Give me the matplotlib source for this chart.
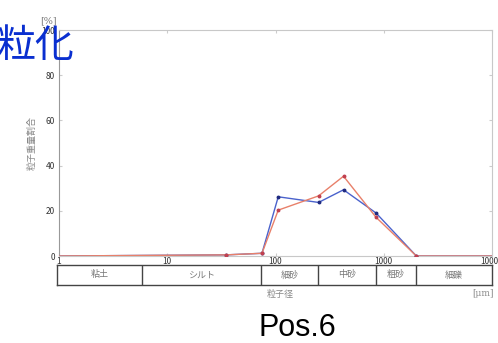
import matplotlib
matplotlib.use("Agg")
import matplotlib.pyplot as plt
from matplotlib.ticker import FixedLocator, NullFormatter

plt.rcParams['font.family'] = ['Noto Sans CJK JP', 'DejaVu Sans']

# 粒径 [um] と 重量割合 [%]
sizes = [1, 35, 75, 106, 250, 425, 850, 2000, 4750, 10000]
blue_vals = [0, 0.5, 1.2, 26.2, 23.7, 29.3, 19.0, 0, 0, 0]
red_vals = [0, 0.5, 1.2, 20.3, 26.6, 35.3, 17.1, 0, 0, 0]

# 土質区分
class_edges = [1, 6, 75, 250, 850, 2000, 10000]
class_names = ['粘土', 'シルト', '細砂', '中砂', '粗砂', '細礫']

x_ticks = [1, 10, 100, 1000, 10000]
y_ticks = [0, 20, 40, 60, 80, 100]

W, H = 498, 343
fig = plt.figure(figsize=(W / 100, H / 100), dpi=100)

def box(x0, y0, x1, y1):
  return [x0 / W, 1 - y1 / H, (x1 - x0) / W, (y1 - y0) / H]

ax = fig.add_axes(box(59, 30, 492, 256))
ax.set_xscale('log')
ax.set_xlim(1, 10000)
ax.set_ylim(0, 100)

marks = list(range(1, 8))  # 端点には印を付けない
ax.plot(sizes, blue_vals, color='#4a62cc', lw=1.0, marker='o', ms=1.8,
        mfc='#1f2a80', mec='#1f2a80', markevery=marks, zorder=3)
ax.plot(sizes, red_vals, color='#e8806a', lw=1.0, marker='o', ms=1.8,
        mfc='#c04050', mec='#c04050', markevery=marks, zorder=4)

for s in ax.spines.values():
  s.set_color('#c8c8c8')
  s.set_linewidth(0.8)
ax.spines['left'].set_color('#999999')

ax.set_yticks(y_ticks)
ax.set_yticklabels([str(v) for v in y_ticks], fontsize=6, color='#333333')
ax.xaxis.set_major_locator(FixedLocator(x_ticks))
ax.xaxis.set_minor_formatter(NullFormatter())
ax.set_xticklabels([str(v) for v in x_ticks], fontsize=6, color='#333333')
ax.tick_params(axis='both', which='both', direction='in', length=2,
               color='#cccccc', top=True, right=True, pad=1)
ax.tick_params(axis='x', which='minor', length=0)
ax.tick_params(axis='y', pad=3)

ax.text(-0.025, 1.02, '[%]', transform=ax.transAxes, fontsize=7,
        color='#777777', ha='center', va='bottom', family='DejaVu Serif')
ax.set_ylabel('粒子重量割合', fontsize=6.5, color='#888888', labelpad=3)

# 区分の表
tab = fig.add_axes(box(57, 265, 492, 285))
tab.set_xscale('log')
tab.set_xlim(1, 10000)
tab.set_ylim(0, 1)
tab.set_xticks([])
tab.set_yticks([])
tab.minorticks_off()
for s in tab.spines.values():
  s.set_color('#444444')
  s.set_linewidth(1.0)
for e in class_edges[1:-1]:
  tab.axvline(e, color='#444444', lw=1.0)
for i, name in enumerate(class_names):
  xc = (class_edges[i] * class_edges[i + 1]) ** 0.5
  tab.text(xc, 0.5, name, ha='center', va='center', fontsize=6.5,
           color='#777777')

fig.text(280 / W, 1 - 294 / H, '粒子径', ha='center', va='center',
         fontsize=6.5, color='#888888')
fig.text(483 / W, 1 - 294 / H, '[μm]', ha='center', va='center',
         fontsize=6.5, color='#888888', family='DejaVu Serif')

fig.text(297 / W, 1 - 328 / H, 'Pos.6', ha='center', va='center',
         fontsize=22, color='black', family='Liberation Sans')
fig.text(-3 / W, 1 - 46 / H, '粒化', ha='left', va='center',
         fontsize=28, color='#0a2fd0')

fig.savefig('out.png', dpi=100)
